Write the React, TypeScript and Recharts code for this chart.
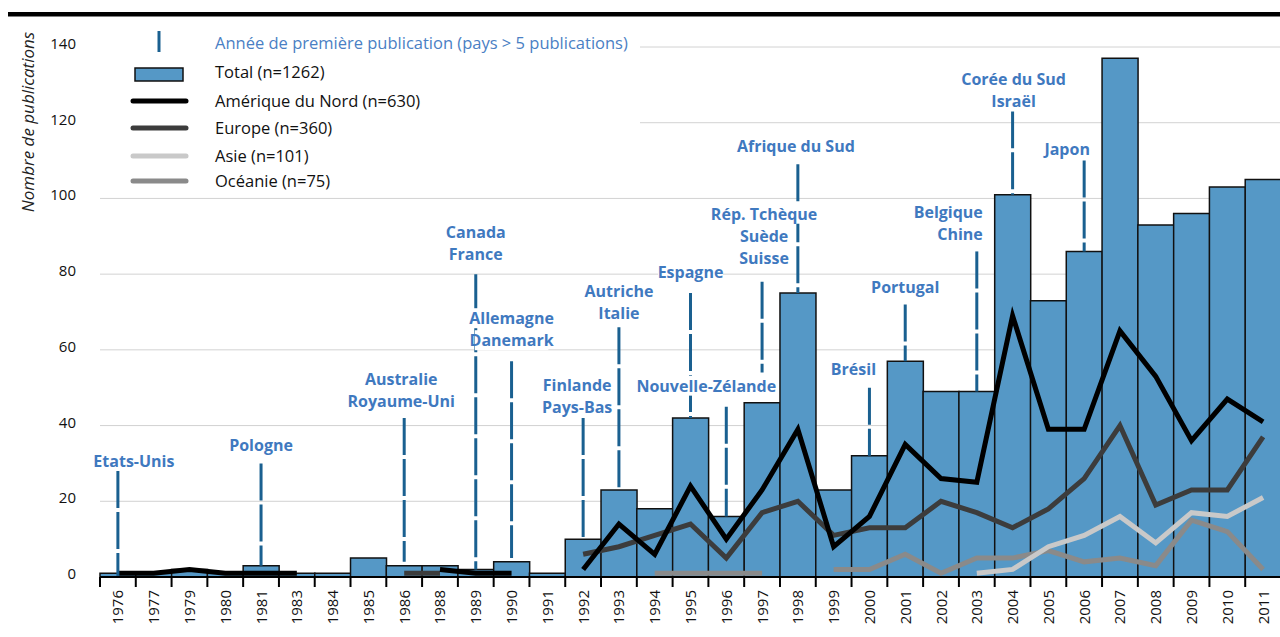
import React from 'react';
import {
  ComposedChart,
  Bar,
  Line,
  XAxis,
  YAxis,
  CartesianGrid,
  ReferenceLine,
  ReferenceDot,
} from 'recharts';

const YEARS = [
  '1976', '1977', '1979', '1980', '1981', '1983', '1984', '1985', '1986', '1988', '1989', '1990', '1991',
  '1992', '1993', '1994', '1995', '1996', '1997', '1998', '1999', '2000', '2001',
  '2002', '2003', '2004', '2005', '2006', '2007', '2008', '2009', '2010', '2011',
];

const TOTAL = [
  1, 1, 2, 1, 3, 1, 1, 5, 3, 3, 2, 4, 1,
  10, 23, 18, 42, 16, 46, 75, 23, 32, 57,
  49, 49, 101, 73, 86, 137, 93, 96, 103, 105,
];

const NORTH_AMERICA = [
  1, 1, 2, 1, 1, 1, null, null, null, 2, 1, 1, null,
  2, 14, 6, 24, 10, 23, 39, 8, 16, 35,
  26, 25, 69, 39, 39, 65, 53, 36, 47, 41,
];

const EUROPE = [
  null, null, null, null, null, null, null, null, 1, 1, null, null, null,
  6, 8, 11, 14, 5, 17, 20, 11, 13, 13,
  20, 17, 13, 18, 26, 40, 19, 23, 23, 37,
];

const ASIA = [
  null, null, null, null, null, null, null, null, null, null, null, null, null,
  null, null, null, null, null, null, null, null, null, null,
  null, 1, 2, 8, 11, 16, 9, 17, 16, 21,
];

const OCEANIA = [
  null, null, null, null, null, null, null, null, null, null, null, null, null,
  null, null, 1, 1, 1, 1, null, 2, 2, 6,
  1, 5, 5, 7, 4, 5, 3, 15, 12, 2,
];

const Y_TICKS = [0, 20, 40, 60, 80, 100, 120, 140];

// first publication year per country (vertical dashed markers)
const ANNOT_YEARS = ['1976', '1981', '1986', '1989', '1990', '1992', '1993', '1995', '1996', '1997', '1998', '2000', '2001', '2003', '2004', '2006'];
const ANNOT_COUNTRIES = [
  ['Etats-Unis'],
  ['Pologne'],
  ['Australie', 'Royaume-Uni'],
  ['Canada', 'France'],
  ['Allemagne', 'Danemark'],
  ['Finlande', 'Pays-Bas'],
  ['Autriche', 'Italie'],
  ['Espagne'],
  ['Nouvelle-Zélande'],
  ['Rép. Tchèque', 'Suède', 'Suisse'],
  ['Afrique du Sud'],
  ['Brésil'],
  ['Portugal'],
  ['Belgique', 'Chine'],
  ['Corée du Sud', 'Israël'],
  ['Japon'],
];
const ANNOT_TOP = [28, 30, 42, 80, 57, 42, 66, 75, 45, 78, 109, 50, 72, 86, 123, 110];
const ANNOT_BOTTOM = [0, 3, 4, 2, 5, 10, 23, 42, 16, 54, 75, 32, 57, 49, 101, 86];

// label layout (pixels): horizontal shift and gap above the marker top
const LABEL_DX = [16, 0, -3, 0, 0, -6, 0, 0, -20, 2, -2, -16, 0, 6, 1, -17];
const LABEL_GAP = [10, 18, 17, 20, 21, 11, 14, 21, 21, 24, 18, 19, 17, 17, 10, 12];
const LABEL_RIGHT = ['2003'];

const FONT = '"Open Sans", "DejaVu Sans", sans-serif';
const MARK_BLUE = '#1a6090';
const TEXT_BLUE = '#3f79bf';
const BAR_BLUE = '#5598c6';

const CHART_W = 1282;
const CHART_H = 637;
const PLOT_LEFT = 100;
const PLOT_RIGHT = 1281;
const PLOT_BOTTOM = 577;
const BAND = (PLOT_RIGHT - PLOT_LEFT) / YEARS.length;

const rows = YEARS.map((year, i) => ({
  year,
  total: TOTAL[i],
  na: NORTH_AMERICA[i],
  europe: EUROPE[i],
  asia: ASIA[i],
  oceania: OCEANIA[i],
}));

function XTick({ x, payload }: any) {
  const left = x - BAND / 2;
  return (
    <g>
      <line x1={left} x2={left} y1={PLOT_BOTTOM} y2={PLOT_BOTTOM + 10} stroke="#000" strokeWidth={2} />
      <text
        transform={`translate(${x + 5.5},${PLOT_BOTTOM + 13}) rotate(-90)`}
        textAnchor="end"
        fontSize={15}
        fontFamily={FONT}
        fill="#111"
      >
        {payload.value}
      </text>
    </g>
  );
}

function YTick({ y, payload }: any) {
  return (
    <text x={76} y={y - 4} textAnchor="end" dominantBaseline="central" fontSize={15} fontFamily={FONT} fill="#111">
      {payload.value}
    </text>
  );
}

function makeLabel(idx: number) {
  const names = ANNOT_COUNTRIES[idx];
  const right = LABEL_RIGHT.includes(ANNOT_YEARS[idx]);
  return function AnnotLabel({ cx, cy }: any) {
    if (cx == null || cy == null) return null;
    const ax = cx + LABEL_DX[idx];
    return (
      <g>
        {names.map((name, j) => {
          const cyLine = cy - LABEL_GAP[idx] - (names.length - 1 - j) * 22;
          const w = name.length * 8.7 + 4;
          const rx = right ? ax - w : ax - w / 2;
          return (
            <g key={name}>
              <rect x={rx} y={cyLine - 10} width={w} height={20} fill="#fff" />
              <text
                x={ax}
                y={cyLine}
                textAnchor={right ? 'end' : 'middle'}
                dominantBaseline="central"
                fontSize={16}
                fontWeight="bold"
                fontFamily={FONT}
                fill={TEXT_BLUE}
              >
                {name}
              </text>
            </g>
          );
        })}
      </g>
    );
  };
}

const LEGEND_LINES = [
  { label: 'Amérique du Nord (n=630)', color: '#000', y: 101 },
  { label: 'Europe (n=360)', color: '#3c3c3c', y: 128 },
  { label: 'Asie (n=101)', color: '#c9c9c9', y: 156 },
  { label: 'Océanie (n=75)', color: '#8a8a8a', y: 181 },
];

export default function App() {
  return (
    <div style={{ position: 'absolute', left: 0, top: 0, width: 1280, height: 637, overflow: 'hidden', background: '#fff' }}>
      <ComposedChart
        width={CHART_W}
        height={CHART_H}
        data={rows}
        margin={{ top: 47, right: CHART_W - PLOT_RIGHT, bottom: 0, left: PLOT_LEFT - 60 }}
        barCategoryGap={0}
        barGap={0}
      >
        <CartesianGrid vertical={false} stroke="#d2d2d2" strokeWidth={1} />
        <XAxis
          dataKey="year"
          interval={0}
          height={CHART_H - PLOT_BOTTOM}
          axisLine={{ stroke: '#000', strokeWidth: 2 }}
          tickLine={false}
          tick={<XTick />}
        />
        <YAxis
          width={60}
          domain={[0, 140]}
          ticks={Y_TICKS}
          axisLine={false}
          tickLine={false}
          tick={<YTick />}
        />
        <Bar dataKey="total" fill={BAR_BLUE} stroke="#111" strokeWidth={1.5} isAnimationActive={false} />
        <Line dataKey="oceania" stroke="#8a8a8a" strokeWidth={5} dot={false} activeDot={false} isAnimationActive={false} />
        <Line dataKey="asia" stroke="#c9c9c9" strokeWidth={5} dot={false} activeDot={false} isAnimationActive={false} />
        <Line dataKey="europe" stroke="#3c3c3c" strokeWidth={5} dot={false} activeDot={false} isAnimationActive={false} />
        <Line dataKey="na" stroke="#000" strokeWidth={5} dot={false} activeDot={false} isAnimationActive={false} />
        {ANNOT_YEARS.map((year, i) => (
          <ReferenceLine
            key={`seg-${year}`}
            segment={[{ x: year, y: ANNOT_TOP[i] }, { x: year, y: ANNOT_BOTTOM[i] }]}
            stroke={MARK_BLUE}
            strokeWidth={3}
            strokeDasharray="37 4"
          />
        ))}
        {ANNOT_YEARS.map((year, i) => (
          <ReferenceDot key={`lab-${year}`} x={year} y={ANNOT_TOP[i]} r={0} shape={makeLabel(i)} />
        ))}
      </ComposedChart>

      <svg width={1280} height={637} style={{ position: 'absolute', left: 0, top: 0, pointerEvents: 'none' }}>
        <rect x={8} y={12} width={1272} height={4.5} fill="#000" />
        <text
          transform="translate(27,122) rotate(-90)"
          textAnchor="middle"
          dominantBaseline="central"
          fontSize={17}
          fontStyle="italic"
          fontFamily={FONT}
          fill="#222"
        >
          Nombre de publications
        </text>
        <rect x={100} y={27} width={540} height={164} fill="#fff" />
        <line x1={159} x2={159} y1={31} y2={52} stroke={MARK_BLUE} strokeWidth={3} />
        <text x={215} y={42} dominantBaseline="central" fontSize={16.5} fontFamily={FONT} fill="#4a80c4">
          Année de première publication (pays &gt; 5 publications)
        </text>
        <rect x={135} y={68} width={48} height={13} fill={BAR_BLUE} stroke="#111" strokeWidth={1.5} />
        <text x={215} y={71} dominantBaseline="central" fontSize={16.5} fontFamily={FONT} fill="#111">
          Total (n=1262)
        </text>
        {LEGEND_LINES.map((l) => (
          <g key={l.label}>
            <line x1={133} x2={186} y1={l.y} y2={l.y} stroke={l.color} strokeWidth={5} strokeLinecap="round" />
            <text x={215} y={l.y - 1} dominantBaseline="central" fontSize={16.5} fontFamily={FONT} fill="#111">
              {l.label}
            </text>
          </g>
        ))}
      </svg>
    </div>
  );
}
